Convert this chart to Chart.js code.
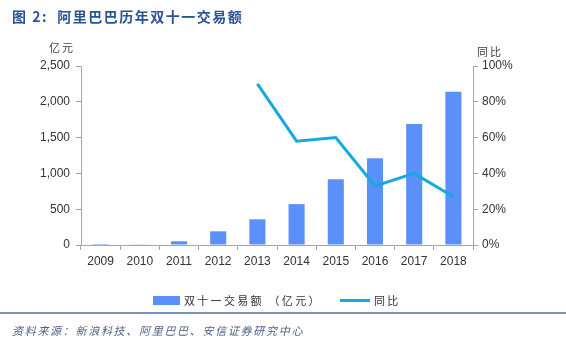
<!DOCTYPE html>
<html lang="zh">
<head>
    <meta charset="UTF-8">
    <title>阿里巴巴历年双十一交易额</title>
    <script src="https://cdn.jsdelivr.net/npm/chart.js"></script>
    <style>
        body { margin: 0; background: #fff; }
        #wrap { position: relative; width: 566px; height: 352px; }
        #chart { display: block; }
        #legend {
            position: absolute; left: 0; top: 291px; height: 18px;
            display: flex; align-items: center;
            font: 11px "Noto Sans CJK SC", sans-serif; color: #333;
            letter-spacing: 2.3px;
        }
        .item { position: absolute; display: flex; align-items: center; white-space: nowrap; }
        .sw { display: inline-block; margin-right: 4px; }
    </style>
</head>
<body>
    <div id="wrap">
        <canvas id="chart" width="566" height="352"></canvas>
        <div id="legend"></div>
    </div>

    <script>
        // Data
        const years = ['2009', '2010', '2011', '2012', '2013', '2014', '2015', '2016', '2017', '2018'];
        const gmv = [0.5, 9.4, 52, 191, 359, 571, 917, 1210, 1690, 2140]; // 亿元
        const yoy = [null, null, null, null, 90, 58, 60, 33, 40, 27]; // %

        const cjk = '"Noto Sans CJK SC", sans-serif';
        const latin = '"Liberation Sans", Arial, sans-serif';

        // Title, axis units, separator and source line
        const decor = {
            id: 'decor',
            afterDraw(chart) {
                const c = chart.ctx;
                c.save();
                c.textBaseline = 'middle';
                c.fillStyle = '#2a5298';
                c.font = 'bold 14px ' + cjk;
                c.letterSpacing = '1.5px';
                c.fillText('图 2:  阿里巴巴历年双十一交易额', 12, 17);

                c.fillStyle = '#404040';
                c.font = '11px ' + cjk;
                c.letterSpacing = '2px';
                c.fillText('亿元', 49, 48);
                c.fillText('同比', 477, 52);

                c.strokeStyle = '#4a6fae';
                c.lineWidth = 1.5;
                c.beginPath();
                c.moveTo(0, 313);
                c.lineTo(566, 313);
                c.stroke();

                c.fillStyle = '#4b5f86';
                c.font = 'italic 11px ' + cjk;
                c.letterSpacing = '1.7px';
                c.fillText('资料来源：新浪科技、阿里巴巴、安信证券研究中心', 12, 331);
                c.restore();
            }
        };

        const ctx = document.getElementById('chart').getContext('2d');
        const chart = new Chart(ctx, {
            data: {
                labels: years,
                datasets: [
                    {
                        type: 'bar',
                        label: '双十一交易额 （亿元）',
                        data: gmv,
                        yAxisID: 'y',
                        backgroundColor: '#5b8ff9',
                        borderWidth: 0,
                        categoryPercentage: 1,
                        barPercentage: 0.41,
                        order: 2
                    },
                    {
                        type: 'line',
                        label: '同比',
                        data: yoy,
                        yAxisID: 'y1',
                        borderColor: '#16a9e0',
                        backgroundColor: '#16a9e0',
                        borderWidth: 3,
                        pointRadius: 0,
                        tension: 0,
                        order: 1
                    }
                ]
            },
            options: {
                responsive: false,
                animation: false,
                layout: { padding: { top: 66, left: 0, right: 0, bottom: 68 } },
                plugins: {
                    tooltip: { enabled: false },
                    legend: { display: false }
                },
                scales: {
                    x: {
                        afterFit(s) { s.height = 39; },
                        grid: { display: true, drawOnChartArea: false, tickLength: 5, color: '#a6a6a6' },
                        border: { color: '#a6a6a6' },
                        ticks: { color: '#333', font: { family: latin, size: 12 }, padding: 4 }
                    },
                    y: {
                        position: 'left',
                        min: 0, max: 2500,
                        afterFit(s) { s.width = 81; },
                        grid: { display: true, drawOnChartArea: false, tickLength: 5, color: '#a6a6a6' },
                        border: { color: '#a6a6a6' },
                        ticks: {
                            stepSize: 500,
                            color: '#333',
                            padding: 6,
                            font: { family: latin, size: 12 },
                            callback: v => v.toLocaleString('en-US')
                        }
                    },
                    y1: {
                        position: 'right',
                        min: 0, max: 100,
                        afterFit(s) { s.width = 93; },
                        grid: { display: true, drawOnChartArea: false, tickLength: 5, color: '#a6a6a6' },
                        border: { color: '#a6a6a6' },
                        ticks: {
                            stepSize: 20,
                            color: '#333',
                            padding: 4,
                            font: { family: latin, size: 12 },
                            callback: v => v + '%'
                        }
                    }
                }
            },
            plugins: [decor]
        });

        // HTML legend built from the chart's datasets
        const legend = document.getElementById('legend');
        const lefts = [153, 340];
        chart.data.datasets.forEach((ds, i) => {
            const item = document.createElement('span');
            item.className = 'item';
            item.style.left = lefts[i] + 'px';
            const sw = document.createElement('span');
            sw.className = 'sw';
            if (ds.type === 'bar') {
                sw.style.cssText += 'width:27px;height:9px;background:' + ds.backgroundColor;
            } else {
                sw.style.cssText += 'width:30px;height:3px;background:' + ds.borderColor;
            }
            item.appendChild(sw);
            item.appendChild(document.createTextNode(ds.label));
            legend.appendChild(item);
        });
    </script>
</body>
</html>
